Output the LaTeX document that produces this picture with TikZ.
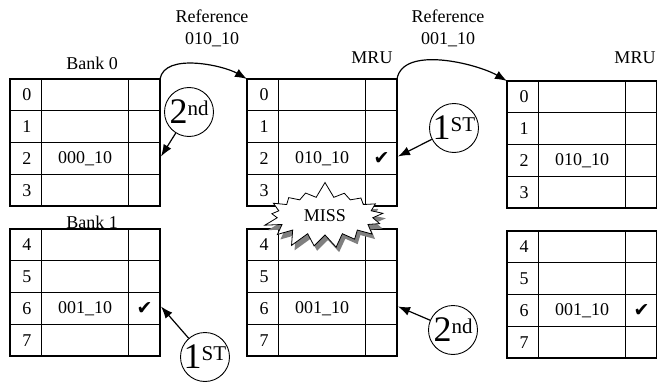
\documentclass[tikz,border=0pt]{standalone}
\usepackage{fontspec}
\setmainfont{Liberation Serif}
\newfontfamily\simbolo{DejaVu Sans}
\usetikzlibrary{arrows.meta,shapes.symbols,shadows}
\newcommand{\corLinha}{black}
\newcommand{\corSombra}{gray}
\newcommand{\corFundo}{white}

\tikzset{
  tabline/.style={draw=\corLinha, line width=1.2pt},
  celltext/.style={inner sep=0pt, font=\fontsize{18}{22}\selectfont},
  visto/.style={inner sep=0pt, font=\simbolo\fontsize{19}{19}\selectfont},
  ordem/.style={circle, draw=\corLinha, line width=0.9pt, minimum size=49pt, inner sep=0pt},
  seta/.style={-{Latex[length=12pt,width=9pt]}, line width=1.2pt},
}

% tabela de um banco: nome, x, y, primeira linha
\newcommand{\banco}[4]{%
  \begin{scope}[shift={(#2,#3)}]
    \draw[tabline] (0,0) rectangle (150,127);
    \foreach \yy in {31.75,63.5,95.25} \draw[tabline] (0,\yy) -- (150,\yy);
    \draw[tabline] (31.5,0) -- (31.5,127) (118.5,0) -- (118.5,127);
    \coordinate (#1-tl) at (0,0);
    \coordinate (#1-tr) at (150,0);
    \foreach \linha in {0,...,3} {
      \pgfmathtruncatemacro{\rotulo}{#4+\linha}
      \node[celltext] (#1-n\linha) at (17,{\linha*31.75+15.9}) {\rotulo};
      \coordinate (#1-v\linha) at (75,{\linha*31.75+15.9});
      \coordinate (#1-c\linha) at (134.5,{\linha*31.75+15.9});
      \coordinate (#1-e\linha) at (151,{\linha*31.75+14});
    }
  \end{scope}}

\newcommand{\ordinal}[2]{{\fontsize{36}{36}\selectfont #1}\raisebox{8pt}{\fontsize{21}{21}\selectfont #2}}

\begin{document}
\begin{tikzpicture}[x=1pt, y=-1pt]
  \useasboundingbox (0,0) rectangle (657,388);

  % estado inicial
  \banco{A0}{10}{79}{0}
  \banco{A1}{10}{229}{4}
  \node[celltext] (bank0) at (92,63) {Bank 0};
  \node[celltext] (bank1) at (92,222) {Bank 1};
  \node[celltext] (valA) at (A0-v2) {000\_10};
  \node[celltext] (valB) at (A1-v2) {001\_10};
  \node[visto] (chkA) at (A1-c2) {✔};

  % depois de 010_10
  \banco{B0}{247}{79}{0}
  \banco{B1}{247}{229}{4}
  \node[celltext] (mru1) at (372,58) {MRU};
  \node[celltext] (valC) at (B0-v2) {010\_10};
  \node[celltext] (valD) at (B1-v2) {001\_10};
  \node[visto] (chkB) at (B0-c2) {✔};

  % depois de 001_10
  \banco{C0}{507}{81}{0}
  \banco{C1}{507}{231}{4}
  \node[celltext] (mru2) at (635,58) {MRU};
  \node[celltext] (valE) at (C0-v2) {010\_10};
  \node[celltext] (valF) at (C1-v2) {001\_10};
  \node[visto] (chkC) at (C1-c2) {✔};

  % referencias
  \node[celltext, align=center] (ref1) at (212,28) {Reference\\010\_10};
  \node[celltext, align=center] (ref2) at (448,28) {Reference\\001\_10};
  \draw[seta] (A0-tr) to[out=80, in=150, looseness=0.8] (B0-tl);
  \draw[seta] (B0-tr) to[out=80, in=150, looseness=0.8] (C0-tl);

  % ordem de substituicao
  \node[ordem] (ord2a) at (189,112) {\ordinal{2}{nd}};
  \node[ordem] (ord1a) at (454,128) {\ordinal{1}{ST}};
  \node[ordem] (ord1b) at (205,357) {\ordinal{1}{ST}};
  \node[ordem] (ord2b) at (453,330) {\ordinal{2}{nd}};
  \draw[seta] (ord2a) -- (A0-e2);
  \draw[seta] (ord1a) -- (B0-e2);
  \draw[seta] (ord1b) -- (A1-e2);
  \draw[seta] (ord2b) -- (B1-e2);

  % falha
  \node[starburst, starburst points=17, starburst point height=16pt, random starburst=7,
        fill=\corFundo, draw=\corLinha, line width=0.8pt, minimum width=128pt, minimum height=70pt,
        drop shadow={fill=\corSombra, opacity=1, shadow xshift=3pt, shadow yshift=-5pt},
        celltext] (miss) at (325,216) {MISS};
\end{tikzpicture}
\end{document}
